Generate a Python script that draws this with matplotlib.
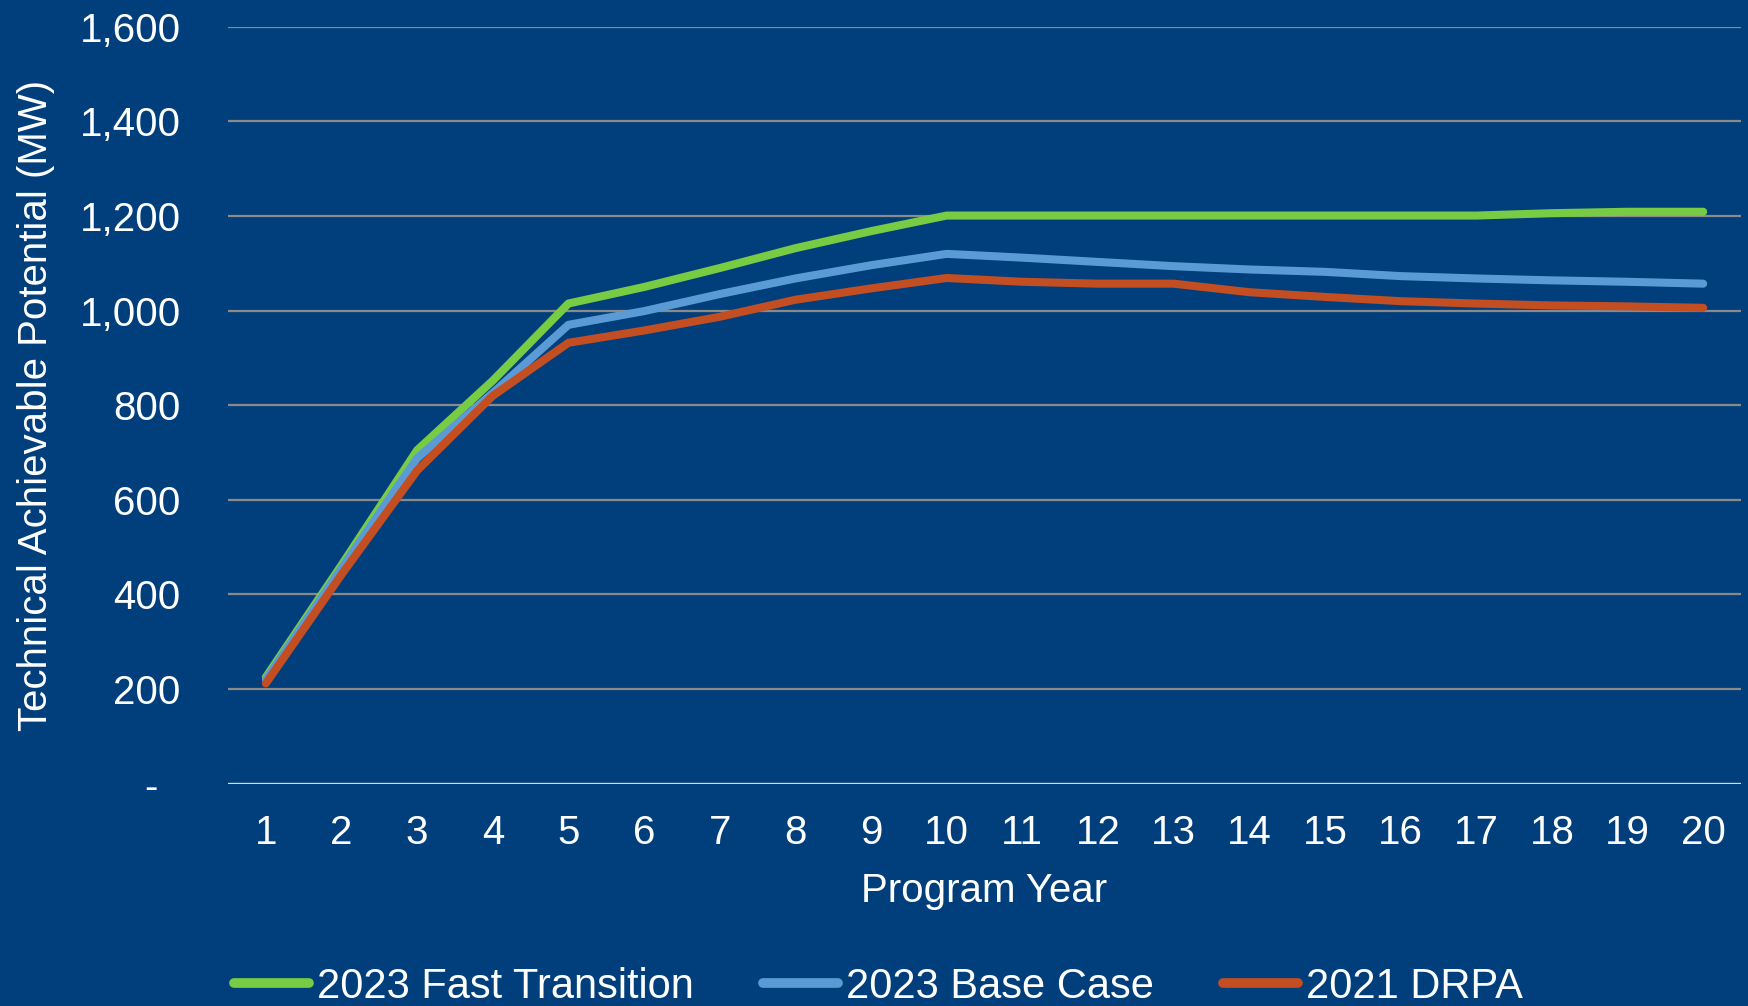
import matplotlib
matplotlib.use('Agg')
import matplotlib.pyplot as plt
from matplotlib.ticker import FuncFormatter

# program years and technical achievable potential (MW) by scenario
years = list(range(1, 21))
fast_transition = [225, 462, 705, 852, 1015, 1050, 1090, 1132, 1168, 1201,
                   1201, 1201, 1201, 1201, 1201, 1201, 1201, 1206, 1209, 1209]
base_case = [220, 455, 688, 826, 970, 999, 1035, 1068, 1096, 1120,
             1112, 1103, 1094, 1087, 1082, 1073, 1068, 1064, 1061, 1057]
drpa_2021 = [212, 442, 662, 820, 932, 958, 987, 1023, 1047, 1069,
             1061, 1057, 1057, 1039, 1029, 1020, 1015, 1011, 1009, 1006]

series_names = ['2023 Fast Transition', '2023 Base Case', '2021 DRPA']
series_colors = ['#77cc44', '#5b9bd5', '#c34e22']

BG = '#013f7c'
FONT = ['Liberation Sans', 'DejaVu Sans']
plt.rcParams['font.family'] = FONT
plt.rcParams['font.size'] = 29

fig = plt.figure(figsize=(17.48, 10.06), dpi=100, facecolor=BG)
ax = fig.add_axes([228/1748, 1 - 783.7/1006, (1741-228)/1748, (783.7-26.8)/1006])
ax.set_facecolor(BG)

for vals, name, col in zip([fast_transition, base_case, drpa_2021], series_names, series_colors):
    ax.plot(years, vals, color=col, lw=5.8, label=name, solid_capstyle='round', zorder=3)

ax.set_xlim(0.5, 20.5)
ax.set_ylim(0, 1600)
ax.set_yticks(range(0, 1601, 200))
ax.set_xticks(years)
ax.yaxis.set_major_formatter(FuncFormatter(lambda v, p: '-  ' if v == 0 else f'{int(v):,}'))

for y in range(200, 1601, 200):
    ax.axhline(y, color='#8a8a8a', lw=1.6, zorder=1)
ax.axhline(0, color='#d9d9d9', lw=2.4, zorder=2)

for s in ax.spines.values():
    s.set_visible(False)
ax.tick_params(axis='both', length=0, colors='white', labelsize=29)
ax.tick_params(axis='y', pad=34)
ax.tick_params(axis='x', pad=22)

ax.set_xlabel('Program Year', color='white', fontsize=29, labelpad=14)
ax.set_ylabel('Technical Achievable Potential (MW)', color='white', fontsize=29, labelpad=18)

leg = fig.legend(loc='center left', bbox_to_anchor=(234/1748, 0.019), ncol=3, frameon=False,
                 handlelength=1.79, handletextpad=0.2, columnspacing=1.66, fontsize=30,
                 borderaxespad=0, borderpad=0)
for t in leg.get_texts():
    t.set_color('white')
for h in leg.get_lines():
    h.set_linewidth(7)

fig.savefig('out.png', dpi=100, facecolor=BG)
